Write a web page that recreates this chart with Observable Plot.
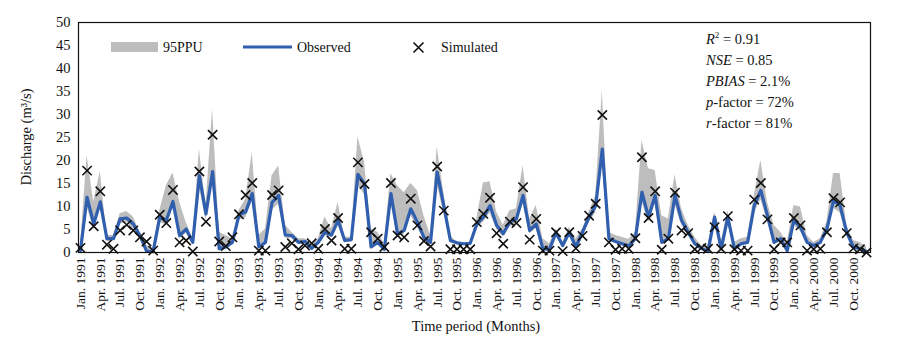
<!DOCTYPE html>
<html>
<head>
<meta charset="utf-8">
<script src="https://cdn.jsdelivr.net/npm/d3@7"></script>
<script src="https://cdn.jsdelivr.net/npm/@observablehq/plot@0.6"></script>
<style>
  body { margin: 0; background: #fff; }
  #wrap { position: relative; width: 914px; height: 343px; font-family: "Liberation Serif", "Times New Roman", serif; color: #111; }
  #overlay { position: absolute; left: 0; top: 0; width: 914px; height: 343px; pointer-events: none; }
  #stats { position: absolute; left: 706px; top: 29px; font-size: 14.5px; line-height: 21px; }
</style>
</head>
<body>
<div id="wrap"></div>
<script>
// ---- Data (Jan 1991 .. Dec 2000, monthly) ----
const years = [1991, 1992, 1993, 1994, 1995, 1996, 1997, 1998, 1999, 2000];
const quarterNames = ["Jan.", "Apr.", "Jul.", "Oct."];

const observed = [
  0.4, 12.0, 6.2, 11.0, 3.0, 3.0, 7.3, 7.5, 6.2, 3.7, 0.3, 0.2,
  7.7, 7.0, 11.1, 3.7, 5.1, 2.2, 16.7, 8.4, 17.6, 0.8, 1.2, 2.2,
  8.2, 8.8, 12.8, 1.2, 2.2, 10.9, 12.4, 3.8, 3.7, 2.2, 2.4, 0.9,
  2.2, 4.4, 3.8, 7.0, 2.6, 2.8, 17.0, 14.9, 1.2, 2.2, 0.7, 12.8,
  4.0, 4.8, 9.5, 6.6, 3.3, 2.2, 17.5, 10.2, 2.6, 2.1, 1.9, 2.0,
  6.2, 7.7, 10.2, 5.9, 4.1, 6.6, 7.3, 12.4, 4.8, 6.2, 0.8, 0.7,
  4.3, 1.5, 4.4, 1.2, 4.4, 7.7, 10.2, 22.5, 3.0, 2.4, 1.9, 1.4,
  3.0, 13.1, 7.7, 12.4, 2.2, 3.0, 12.4, 7.0, 4.4, 1.9, 0.9, 0.3,
  7.7, 0.8, 7.7, 0.8, 1.9, 2.2, 10.2, 13.5, 8.0, 2.2, 3.0, 0.4,
  7.0, 5.5, 2.2, 1.5, 2.2, 5.1, 11.3, 10.2, 4.4, 1.2, 0.8, 0.2
];

const simulated = [
  1.0, 17.8, 5.7, 13.3, 1.7, 0.8, 4.8, 6.0, 4.8, 3.3, 2.4, 0.4,
  8.2, 6.4, 13.6, 2.2, 2.6, 0.2, 17.6, 6.7, 25.6, 2.4, 1.4, 3.3,
  8.3, 12.5, 15.1, 0.4, 0.4, 12.5, 13.5, 1.2, 2.0, 0.7, 1.5, 2.0,
  0.8, 5.1, 2.6, 7.5, 0.8, 0.8, 19.6, 14.9, 4.4, 3.0, 1.2, 15.1,
  3.7, 3.3, 11.7, 5.9, 2.5, 1.3, 18.7, 9.1, 0.7, 0.7, 0.7, 0.7,
  6.6, 8.4, 11.9, 4.2, 1.9, 6.7, 6.4, 14.2, 2.8, 7.3, 0.4, 0.4,
  4.4, 0.3, 4.4, 0.9, 3.6, 8.0, 10.6, 29.9, 2.2, 0.6, 0.8, 0.8,
  3.1, 20.7, 7.5, 13.3, 0.6, 3.0, 13.0, 4.8, 4.2, 0.7, 1.0, 0.8,
  5.5, 0.8, 7.9, 0.7, 0.4, 0.4, 11.5, 15.1, 7.2, 0.7, 2.2, 2.2,
  7.5, 5.9, 0.4, 0.7, 0.8, 4.4, 11.8, 10.9, 4.2, 0.9, 0.7, 0.0
];

const ppuUpper = [
  1.5, 21.1, 11.0, 17.6, 3.7, 3.7, 8.4, 8.9, 7.7, 4.4, 1.5, 1.0,
  9.1, 14.5, 17.3, 11.0, 6.5, 3.0, 22.5, 10.2, 31.2, 4.4, 3.7, 3.0,
  9.1, 11.5, 21.7, 3.7, 5.1, 16.7, 18.8, 5.9, 4.4, 3.0, 3.0, 1.5,
  3.0, 7.7, 5.1, 10.9, 3.3, 3.3, 25.1, 19.6, 5.1, 4.4, 1.9, 17.1,
  14.5, 13.0, 15.0, 13.5, 8.0, 3.7, 22.9, 13.1, 3.7, 2.2, 1.9, 1.9,
  7.3, 15.1, 15.4, 8.8, 5.9, 9.1, 9.5, 18.9, 7.3, 10.2, 3.0, 1.9,
  5.1, 2.2, 5.5, 3.0, 5.1, 8.8, 12.4, 35.2, 4.4, 3.7, 3.3, 2.8,
  4.4, 24.3, 18.2, 17.8, 8.0, 7.3, 16.9, 9.5, 5.9, 3.3, 1.5, 1.5,
  8.8, 2.2, 9.1, 2.2, 3.0, 3.3, 12.4, 20.0, 10.9, 5.9, 4.4, 2.2,
  10.2, 9.9, 3.7, 2.2, 3.0, 6.6, 17.2, 17.2, 5.9, 2.6, 2.2, 1.2
];

const ppuLower = [
  0.2, 10.0, 5.0, 9.5, 2.4, 2.5, 6.2, 6.5, 5.2, 3.0, 0.1, 0.1,
  6.5, 6.0, 9.5, 3.0, 4.2, 1.8, 14.2, 7.0, 15.0, 0.5, 0.9, 1.8,
  7.0, 7.5, 11.0, 0.9, 1.8, 9.2, 10.5, 3.1, 3.0, 1.8, 2.0, 0.7,
  1.8, 3.7, 3.2, 6.0, 2.1, 2.3, 14.5, 12.6, 0.9, 1.8, 0.5, 10.9,
  3.3, 4.0, 8.0, 5.6, 2.7, 1.8, 14.8, 8.6, 2.1, 1.7, 1.5, 1.6,
  5.2, 6.5, 8.6, 5.0, 3.4, 5.6, 6.2, 10.5, 4.0, 5.2, 0.6, 0.5,
  3.6, 1.2, 3.7, 0.9, 3.7, 6.5, 8.6, 19.0, 2.5, 2.0, 1.6, 1.1,
  2.5, 11.0, 6.5, 10.5, 1.8, 2.5, 10.5, 5.9, 3.7, 1.6, 0.7, 0.2,
  6.5, 0.6, 6.5, 0.6, 1.6, 1.8, 8.6, 11.4, 6.8, 1.8, 2.5, 0.3,
  5.9, 4.6, 1.8, 1.2, 1.8, 4.3, 9.6, 8.6, 3.7, 0.9, 0.6, 0.1
];

const yTicks = [0, 5, 10, 15, 20, 25, 30, 35, 40, 45, 50];
const legendLabels = ["95PPU", "Observed", "Simulated"];
const statsLines = [
  ["R", "2", " = 0.91"],
  ["NSE", "", " = 0.85"],
  ["PBIAS", "", " = 2.1%"],
  ["p", "", "-factor = 72%"],
  ["r", "", "-factor = 81%"]
];
const yLabel = "Discharge (m\u00B3/s)";
const xLabel = "Time period (Months)";

// ---- Build table ----
const data = observed.map((v, i) => ({i, obs: v, sim: simulated[i], lo: ppuLower[i], hi: ppuUpper[i]}));
const tickIdx = d3.range(0, 120, 3);
const tickText = new Map(tickIdx.map(i => [i, quarterNames[(i / 3) % 4] + " " + years[Math.floor(i / 12)]]));

const BLUE = "#2f5fae";
const GRAY = "#bdbdbd";
const SERIF = "'Liberation Serif', 'Times New Roman', serif";

const chart = Plot.plot({
  width: 914,
  height: 343,
  marginLeft: 78,
  marginRight: 44,
  marginTop: 22,
  marginBottom: 91,
  x: {domain: [-0.3, 119.6]},
  y: {domain: [0, 50]},
  marks: [
    Plot.areaY(data, {x: "i", y1: "lo", y2: "hi", fill: GRAY, curve: "linear"}),
    Plot.lineY(data, {x: "i", y: "obs", stroke: BLUE, strokeWidth: 3.2, curve: "linear"}),
    Plot.dot(data, {x: "i", y: "sim", symbol: "times", r: 4.3, stroke: "#111", strokeWidth: 1.6}),
    Plot.frame({stroke: "#111", strokeWidth: 1.2}),
    Plot.axisY({ticks: yTicks, tickSize: 0, tickPadding: 8, fontSize: 14.5, label: null}),
    Plot.axisX({ticks: tickIdx, tickFormat: i => tickText.get(i), tickRotate: -90, tickSize: 0, tickPadding: 5, fontSize: 13.5, label: null})
  ]
});

// serif font for the library's tick labels
const cs = d3.select(chart);
cs.attr("font-family", SERIF);
cs.selectAll("text").attr("font-family", SERIF).style("font-family", SERIF).attr("fill", "#111");

const wrap = document.getElementById("wrap");
wrap.appendChild(chart);

// ---- Overlay: axis titles and legend ----
const ov = d3.select(wrap).append("svg").attr("id", "overlay").attr("width", 914).attr("height", 343)
  .style("font-family", SERIF).style("font-size", "14px").attr("fill", "#111");
ov.append("text").attr("transform", "translate(31,137) rotate(-90)").attr("text-anchor", "middle").style("font-size", "14.5px").text(yLabel);
ov.append("text").attr("x", 476).attr("y", 331).attr("text-anchor", "middle").style("font-size", "14.5px").text(xLabel);

ov.append("rect").attr("x", 111).attr("y", 42).attr("width", 47).attr("height", 10).attr("fill", GRAY);
ov.append("text").attr("x", 163).attr("y", 52).text(legendLabels[0]);
ov.append("line").attr("x1", 243).attr("x2", 292).attr("y1", 47).attr("y2", 47).attr("stroke", BLUE).attr("stroke-width", 3);
ov.append("text").attr("x", 297).attr("y", 52).text(legendLabels[1]);
ov.append("path").attr("d", "M413.5,42.5L423.5,52.5M423.5,42.5L413.5,52.5").attr("stroke", "#111").attr("stroke-width", 1.6);
ov.append("text").attr("x", 441).attr("y", 52).text(legendLabels[2]);

// ---- Stats box ----
const stats = document.createElement("div");
stats.id = "stats";
stats.innerHTML = statsLines.map(([it, sup, rest]) =>
  `<div><i>${it}</i>${sup ? `<sup style="font-size:9px;vertical-align:6px;line-height:0">${sup}</sup>` : ""}${rest}</div>`).join("");
wrap.appendChild(stats);
</script>
</body>
</html>
